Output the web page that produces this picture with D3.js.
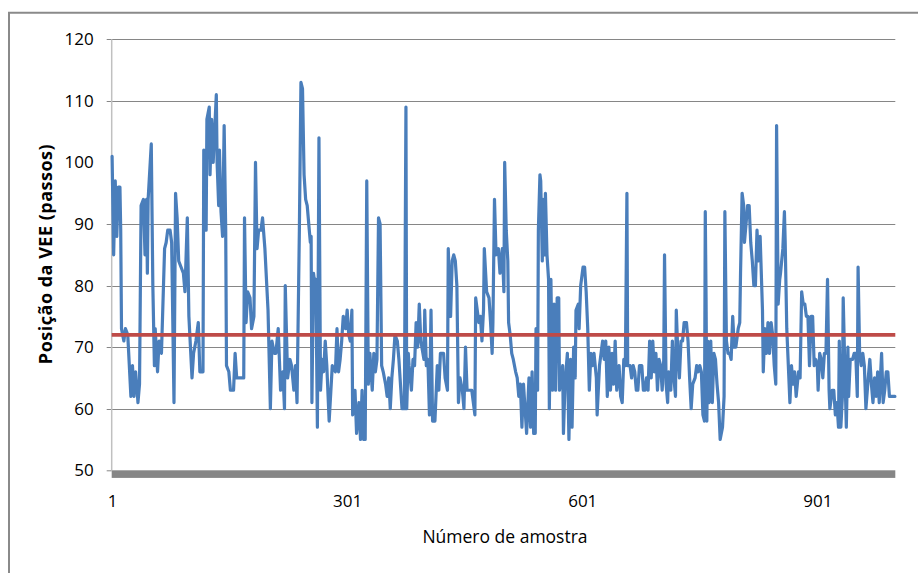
<!DOCTYPE html>
<html>
<head>
<meta charset="utf-8">
<script src="https://cdn.jsdelivr.net/npm/d3@7"></script>
<style>
  html, body { margin: 0; padding: 0; background: #fff; }
  svg { display: block; font-family: "Open Sans", "Noto Sans", sans-serif; }
</style>
</head>
<body>
<svg id="chart" width="918" height="573"></svg>
<script>
const amostra = [
  1, 3, 5, 7, 9, 11, 12, 13, 16, 18, 21, 25, 27, 29, 31, 33, 34, 36, 38, 41, 43, 45, 46, 47, 51, 53, 55, 56, 59, 61,
  64, 68, 70, 72, 75, 77, 80, 82, 84, 86, 92, 94, 97, 99, 103, 105, 108, 111, 113, 117, 118, 120, 121, 122, 125,
  126, 128, 130, 134, 135, 137, 138, 140, 142, 144, 146, 147, 150, 152, 156, 158, 160, 164, 169, 170, 172, 174, 177,
  179, 182, 184, 186, 188, 191, 193, 196, 200, 203, 205, 208, 210, 213, 216, 219, 221, 222, 225, 228, 230, 233, 235,
  237, 240, 242, 244,
  246, 248, 250, 252, 254, 255, 256, 258, 260, 261, 263, 265, 267, 269, 271, 273, 275, 278, 282, 286, 288, 290, 292,
  294, 296, 299, 301, 303, 305, 307, 308, 311, 313, 316, 318, 320, 322, 324, 326, 328, 330, 333, 335, 337, 339, 341,
  343, 345, 347, 350, 352, 354, 356, 358, 360, 362, 365, 367, 371, 374, 376,
  377, 379, 380, 383, 385, 387, 389, 391, 393, 395, 399, 400, 402, 404, 406, 408, 410, 413, 416, 418, 420, 424, 426,
  429, 430, 433, 435, 437, 439, 441, 443, 445, 448, 450, 452, 454, 458, 460, 464, 465, 467, 469, 471, 473, 475, 476,
  479, 482, 484, 486, 487, 489, 491, 494, 496, 499, 501, 502, 504, 506, 507, 509,
  511, 513, 516, 518, 520, 522, 524, 526, 528, 530, 533, 535, 537, 539, 541, 542, 544, 545, 547, 548, 550, 551, 553,
  554, 556, 558, 559, 561, 563, 565, 567, 569, 571, 572, 574, 576, 577, 579, 582, 584, 586, 588, 590, 592, 593, 596,
  597, 599, 602, 604, 606, 608, 610, 612, 614, 616, 619, 620, 623, 625, 627, 629,
  631, 633, 635, 637, 639, 641, 643, 645, 648, 650, 652, 654, 656, 658, 659, 662, 664, 666, 668, 670, 672, 674, 677,
  679, 681, 683, 685, 687, 689, 691, 693, 695, 697, 699, 701, 703, 705, 706, 708, 710, 711, 714, 716, 718, 720, 721,
  723, 725, 727, 729, 731, 734, 736, 738, 740, 742, 745, 747, 749, 751, 753, 755, 757, 758, 759,
  760, 761, 763, 765, 767, 769, 771, 773, 775, 777, 780, 782, 783, 785, 787, 789, 791, 793, 795, 797, 800, 802, 803,
  805, 807, 808, 810, 812, 814, 816, 818, 820, 822, 824, 826, 828, 831, 832, 834, 836, 838, 840, 842, 844, 846, 848,
  849, 851, 853, 854, 857, 859, 860, 862, 864, 866, 868, 870, 872, 874, 877, 879, 881, 883,
  885, 887, 889, 891, 893, 895, 897, 899, 901, 902, 904, 906, 908, 910, 912, 914, 916, 917, 920, 922, 924, 926, 928,
  929, 931, 933, 934, 936, 938, 940, 941, 943, 946, 948, 950, 952, 953, 955, 957, 959, 961, 963, 966, 968, 970, 972,
  974, 976, 978, 980, 983, 985, 987, 989, 991, 993, 1000
];
const posicao = [
  101, 85, 97, 88, 96, 96, 89, 73, 71, 73, 72, 62, 67, 62, 66, 63, 61, 64, 93, 94, 85, 94, 82, 94, 103, 80, 67, 73, 66, 71,
  69, 86, 87, 89, 89, 87, 61, 95, 91, 84, 82, 79, 91, 75, 65, 69, 71, 74, 66, 66, 102, 101, 89, 107, 109,
  98, 107, 100, 111, 100, 93, 102, 92, 88, 106, 89, 67, 66, 63, 63, 69, 65, 65, 65, 91, 74, 79, 78,
  73, 75, 100, 86, 89, 89, 91, 86, 76, 60, 71, 69, 69, 73, 63, 66, 60, 80, 65, 68, 67, 63, 67,
  61, 89, 113, 112,
  98, 94, 93, 90, 87, 88, 61, 82, 80, 81, 57, 104, 63, 68, 66, 71, 67, 58, 67, 66, 73, 66, 68,
  71, 75, 73, 76, 72, 71, 76, 59, 63, 56, 61, 55, 63, 55, 55, 97, 64, 69, 63, 69, 66, 68, 91,
  90, 67, 66, 64, 62, 65, 60, 65, 68, 72, 71, 68, 60, 60, 109,
  60, 69, 67, 63, 68, 67, 74, 70, 77, 71, 68, 76, 67, 68, 59, 76, 58, 58, 67, 63, 69, 69, 65,
  63, 86, 75, 84, 85, 84, 80, 61, 65, 63, 60, 70, 63, 63, 63, 59, 78, 76, 74, 75, 71, 76, 86,
  79, 78, 74, 69, 74, 94, 85, 86, 82, 86, 79, 100, 89, 84, 74, 72,
  69, 68, 66, 65, 62, 64, 57, 64, 60, 56, 65, 57, 66, 56, 56, 73, 63, 89, 98, 97, 84, 94, 85,
  95, 85, 81, 60, 81, 63, 77, 63, 78, 78, 63, 65, 67, 56, 64, 69, 55, 68, 57, 70, 65, 76, 77,
  73, 80, 83, 83, 79, 73, 63, 69, 67, 69, 65, 59, 67, 69, 71, 68,
  71, 62, 70, 63, 69, 64, 71, 63, 67, 62, 61, 68, 67, 95, 67, 67, 65, 67, 66, 63, 63, 67, 67,
  63, 63, 65, 63, 71, 65, 71, 66, 69, 63, 68, 67, 63, 68, 85, 64, 61, 66, 63, 71, 65, 62, 76,
  69, 65, 71, 71, 74, 74, 71, 65, 60, 64, 65, 67, 66, 67, 66, 59, 58, 92, 78,
  58, 71, 61, 71, 61, 69, 68, 64, 61, 55, 57, 62, 92, 71, 69, 69, 68, 75, 70, 70, 73, 74, 82,
  95, 93, 87, 90, 93, 93, 87, 84, 80, 80, 89, 84, 88, 76, 66, 73, 69, 74, 69, 74, 72, 67, 64,
  106, 77, 81, 82, 86, 92, 87, 73, 67, 61, 67, 64, 66, 62, 66, 65, 79, 77,
  77, 75, 75, 67, 75, 75, 67, 68, 67, 63, 69, 68, 65, 69, 69, 81, 63, 60, 63, 63, 59, 61, 57,
  71, 57, 62, 78, 67, 57, 70, 62, 68, 68, 69, 69, 62, 83, 69, 67, 69, 67, 60, 65, 68, 64, 61,
  65, 62, 66, 61, 69, 61, 63, 66, 66, 62, 62
];
const totalAmostras = 1000;
const limite = 72;                       // red reference line
const yTicks = [50, 60, 70, 80, 90, 100, 110, 120];
const gridTicks = [60, 70, 80, 90, 110, 120]; // the 100 gridline does not show in the picture
const xTickLabels = [1, 301, 601, 901];
const yTitle = "Posição da VEE (passos)";
const xTitle = "Número de amostra";

const svg = d3.select("#chart");
const plotLeft = 111.7, plotRight = 895.3, plotTop = 39.3, plotBottom = 470.3;

const x = d3.scaleLinear().domain([0.5, totalAmostras + 0.5]).range([plotLeft, plotRight]);
const y = d3.scaleLinear().domain([50, 120]).range([plotBottom, plotTop]);

// outer frame (only top and left edges fall inside the picture)
svg.append("path")
    .attr("d", "M9,573V12.7H918")
    .attr("fill", "none")
    .attr("stroke", "#8a8a8a")
    .attr("stroke-width", 2);

// gridlines with short ticks on the left
svg.append("g")
    .selectAll("line")
    .data(gridTicks)
    .join("line")
    .attr("x1", plotLeft - 5)
    .attr("x2", plotRight)
    .attr("y1", d => Math.round(y(d)) + 0.5)
    .attr("y2", d => Math.round(y(d)) + 0.5)
    .attr("stroke", "#868686")
    .attr("stroke-width", 1);

// tick stub for 50
svg.append("line")
    .attr("x1", plotLeft - 5).attr("x2", plotLeft)
    .attr("y1", y(50) + 0.5).attr("y2", y(50) + 0.5)
    .attr("stroke", "#868686");

// vertical axis line
svg.append("line")
    .attr("x1", plotLeft).attr("x2", plotLeft)
    .attr("y1", plotTop).attr("y2", plotBottom)
    .attr("stroke", "#c0c0c0")
    .attr("stroke-width", 1.5);

// y axis labels
const yAxis = d3.axisLeft(y).tickValues(yTicks).tickSize(0).tickPadding(18);
svg.append("g")
    .attr("transform", `translate(${plotLeft},0)`)
    .call(yAxis)
    .call(g => g.select(".domain").remove())
    .call(g => g.selectAll("text")
        .attr("font-family", "'Open Sans', sans-serif")
        .attr("font-size", 17)
        .attr("fill", "#000"));

// thick horizontal axis band at 50
svg.append("rect")
    .attr("x", plotLeft)
    .attr("y", y(50))
    .attr("width", plotRight - plotLeft)
    .attr("height", 7.6)
    .attr("fill", "#868686");

// x axis labels
const xAxis = d3.axisBottom(x).tickValues(xTickLabels).tickSize(0).tickPadding(24.5).tickFormat(d3.format("d"));
svg.append("g")
    .attr("transform", `translate(0,${plotBottom})`)
    .call(xAxis)
    .call(g => g.select(".domain").remove())
    .call(g => g.selectAll("text")
        .attr("font-family", "'Open Sans', sans-serif")
        .attr("font-size", 17)
        .attr("fill", "#000"));

// data line
const serie = amostra.map((s, i) => ({ s, v: posicao[i] }));
const line = d3.line()
    .x(d => x(d.s))
    .y(d => y(d.v));

svg.append("path")
    .datum(serie)
    .attr("d", line)
    .attr("fill", "none")
    .attr("stroke", "#4a7ebb")
    .attr("stroke-width", 3.2)
    .attr("stroke-linejoin", "round")
    .attr("stroke-linecap", "round");

// reference level
svg.append("line")
    .attr("x1", x(0.5)).attr("x2", x(totalAmostras + 0.5))
    .attr("y1", y(limite)).attr("y2", y(limite))
    .attr("stroke", "#be4b48")
    .attr("stroke-width", 3.6);

// axis titles
svg.append("text")
    .attr("transform", "translate(52,254) rotate(-90)")
    .attr("text-anchor", "middle")
    .attr("font-weight", "bold")
    .attr("font-size", 18)
    .attr("letter-spacing", 0.5)
    .attr("fill", "#000")
    .text(yTitle);

svg.append("text")
    .attr("x", 505)
    .attr("y", 543)
    .attr("text-anchor", "middle")
    .attr("font-size", 17.5)
    .attr("fill", "#000")
    .text(xTitle);
</script>
</body>
</html>
